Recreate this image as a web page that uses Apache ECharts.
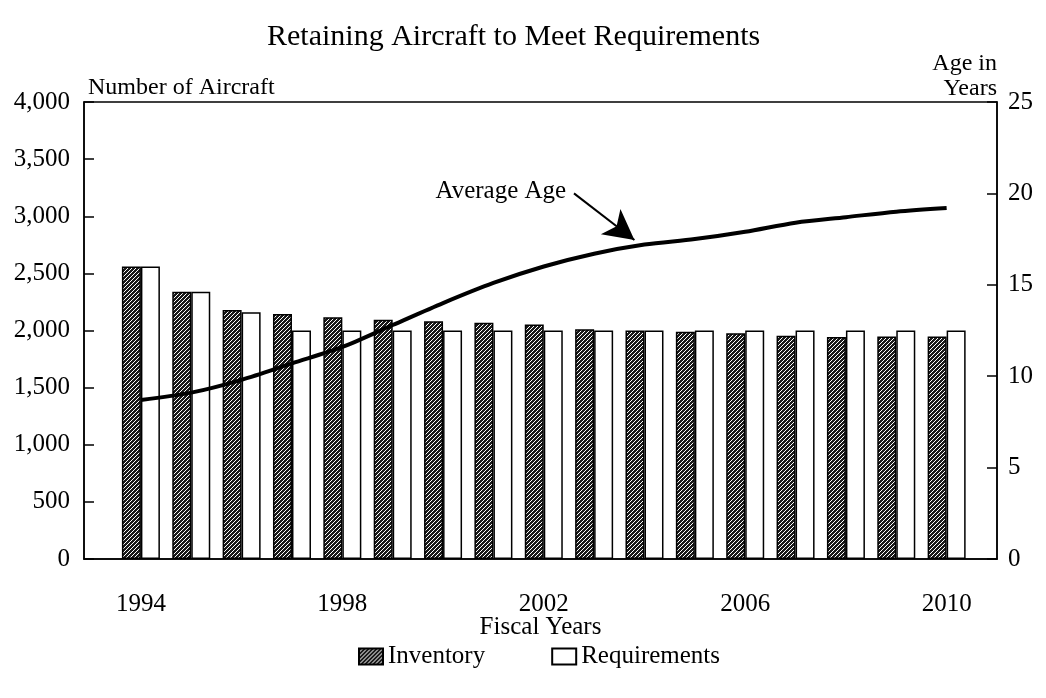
<!DOCTYPE html>
<html>
<head>
<meta charset="utf-8">
<script src="https://cdn.jsdelivr.net/npm/echarts@6/dist/echarts.min.js"></script>
<style>
  html, body { margin: 0; padding: 0; background: #fff; }
  #chart { width: 1046px; height: 698px; }
</style>
</head>
<body>
<div id="chart"></div>
<script>
var myChart = echarts.init(document.getElementById('chart'));

var years = [1994, 1995, 1996, 1997, 1998, 1999, 2000, 2001, 2002,
             2003, 2004, 2005, 2006, 2007, 2008, 2009, 2010];
var inventory = [2560, 2340, 2180, 2145, 2115, 2095, 2080, 2068, 2052,
                 2012, 2000, 1988, 1977, 1955, 1943, 1948, 1948];
var requirements = [2560, 2340, 2160, 2000, 2000, 2000, 2000, 2000, 2000,
                    2000, 2000, 2000, 2000, 2000, 2000, 2000, 2000];
var averageAge = [8.7, 9.1, 9.8, 10.7, 11.6, 12.8, 14.0, 15.1, 16.0,
                  16.7, 17.2, 17.5, 17.9, 18.4, 18.7, 19.0, 19.2];
var yearLabels = [1994, 1998, 2002, 2006, 2010];

var font = 'Liberation Serif';

// hatch fill for the inventory bars
function hatch() {
  var c = document.createElement('canvas');
  c.width = 4; c.height = 4;
  var ctx = c.getContext('2d');
  ctx.fillStyle = '#1a1a1a';
  ctx.fillRect(0, 0, 4, 4);
  ctx.strokeStyle = '#ffffff';
  ctx.lineWidth = 1;
  ctx.beginPath();
  ctx.moveTo(0, 4); ctx.lineTo(4, 0);
  ctx.moveTo(-1, 1); ctx.lineTo(1, -1);
  ctx.moveTo(3, 5); ctx.lineTo(5, 3);
  ctx.stroke();
  return c;
}

function pairs(vals) {
  return years.map(function (y, i) { return [y, vals[i]]; });
}

var option = {
  animation: false,
  title: {
    text: 'Retaining Aircraft to Meet Requirements',
    left: 262,
    top: 17,
    textStyle: { fontFamily: font, fontSize: 30, fontWeight: 'normal', color: '#000' }
  },
  legend: {
    left: 353,
    top: 639,
    icon: 'rect',
    itemWidth: 24,
    itemHeight: 16,
    itemGap: 66,
    textStyle: { fontFamily: font, fontSize: 25, color: '#000' },
    data: ['Inventory', 'Requirements']
  },
  grid: {
    left: 84,
    right: 49,
    top: 102,
    bottom: 139,
    show: true,
    borderColor: '#000',
    borderWidth: 1.5,
    backgroundColor: 'transparent'
  },
  xAxis: {
    type: 'value',
    min: 1992.87,
    max: 2011,
    name: 'Fiscal Years',
    nameLocation: 'middle',
    nameGap: 56,
    nameMoveOverlap: false,
    nameTextStyle: { fontFamily: font, fontSize: 25, color: '#000' },
    axisLine: { lineStyle: { color: '#000', width: 1.5 } },
    axisTick: { show: false },
    splitLine: { show: false },
    axisLabel: {
      customValues: yearLabels,
      margin: 33,
      fontFamily: font,
      fontSize: 25,
      color: '#000',
      formatter: function (v) { return String(v); }
    }
  },
  yAxis: [
    {
      type: 'value',
      min: 0,
      max: 4000,
      interval: 500,
      name: 'Number of Aircraft',
      nameLocation: 'end',
      nameGap: 2,
      nameTextStyle: { fontFamily: font, fontSize: 24, color: '#000', align: 'left', padding: [0, 0, 0, 4] },
      axisLine: { show: true, lineStyle: { color: '#000', width: 1.5 } },
      axisTick: { show: true, inside: true, length: 10, lineStyle: { color: '#000', width: 1.5 } },
      splitLine: { show: false },
      axisLabel: {
        margin: 14,
        fontFamily: font,
        fontSize: 25,
        color: '#000',
        formatter: function (v) { return v.toLocaleString('en-US'); }
      }
    },
    {
      type: 'value',
      min: 0,
      max: 25,
      interval: 5,
      name: 'Age in\nYears',
      nameLocation: 'end',
      nameGap: 1,
      nameTextStyle: { fontFamily: font, fontSize: 24, color: '#000', align: 'right', lineHeight: 25 },
      axisLine: { show: true, lineStyle: { color: '#000', width: 1.5 } },
      axisTick: { show: true, inside: true, length: 10, lineStyle: { color: '#000', width: 1.5 } },
      splitLine: { show: false },
      axisLabel: { margin: 11, fontFamily: font, fontSize: 25, color: '#000' }
    }
  ],
  series: [
    {
      name: 'Inventory',
      type: 'bar',
      barWidth: 19,
      barGap: '0%',
      itemStyle: {
        color: { image: hatch(), repeat: 'repeat' },
        borderColor: '#000',
        borderWidth: 1.5
      },
      data: pairs(inventory)
    },
    {
      name: 'Requirements',
      type: 'bar',
      barWidth: 19,
      barGap: '0%',
      itemStyle: { color: '#fff', borderColor: '#000', borderWidth: 1.5 },
      data: pairs(requirements)
    },
    {
      name: 'Average Age',
      type: 'line',
      yAxisIndex: 1,
      smooth: 0.3,
      symbol: 'none',
      lineStyle: { color: '#000', width: 4 },
      data: pairs(averageAge),
      markLine: {
        silent: true,
        symbol: ['none', 'arrow'],
        symbolSize: [24, 30],
        lineStyle: { color: '#000', width: 2, type: 'solid' },
        itemStyle: { color: '#000' },
        label: {
          show: true,
          position: 'start',
          formatter: 'Average Age',
          fontFamily: font,
          fontSize: 25,
          color: '#000',
          distance: 4,
          padding: [0, 140, 14, 0]
        },
        data: [[{ coord: [2002.6, 20.0] }, { coord: [2003.8, 17.45] }]]
      }
    }
  ]
};

option && myChart.setOption(option);
</script>
</body>
</html>
